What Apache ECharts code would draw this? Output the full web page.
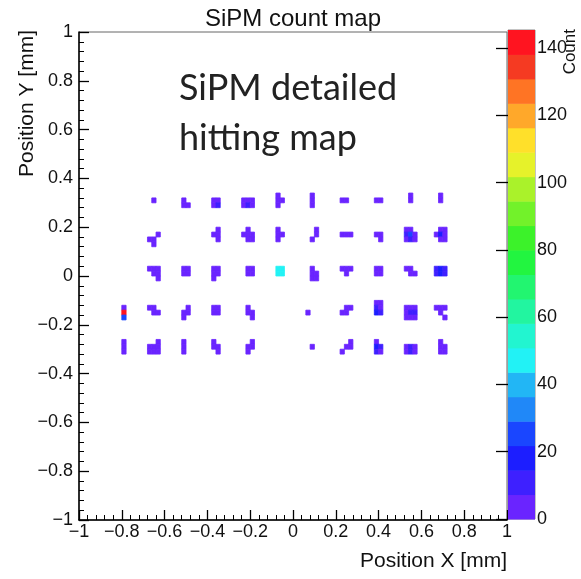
<!DOCTYPE html>
<html>
<head>
<meta charset="utf-8">
<script src="https://cdn.jsdelivr.net/npm/echarts@6/dist/echarts.min.js"></script>
<style>
  html, body { margin: 0; padding: 0; background: #fff; }
  #chart { width: 581px; height: 579px; }
</style>
</head>
<body>
<div id="chart"></div>
<script>
// Histogram bin width (mm) and colour scale of the count map
const BIN = 0.02;
const Z_MAX = 145.4;
const N_LEVELS = 20;

// Axis tick labels
const xTicks = [-1, -0.8, -0.6, -0.4, -0.2, 0, 0.2, 0.4, 0.6, 0.8, 1];
const yTicks = [-1, -0.8, -0.6, -0.4, -0.2, 0, 0.2, 0.4, 0.6, 0.8, 1];
const zTicks = [0, 20, 40, 60, 80, 100, 120, 140];

// Palette levels, lowest to highest
const levelColors = [
  '#6a24ff', '#3e20ff', '#1c1eff', '#1a46ff', '#2088f8',
  '#22b6f5', '#22f2f5', '#22f5d0', '#22f5a0', '#22f570',
  '#22f540', '#3cf22a', '#72f22a', '#aaf22a', '#e6f22a',
  '#ffe02a', '#ffa82a', '#ff7424', '#f53a22', '#ff1420'
];

// Filled bins [x (mm), y (mm), count], one list per row of pixels
const row030 = [
  [-0.65, 0.31, 3],
  [-0.51, 0.31, 4], [-0.51, 0.29, 5], [-0.49, 0.29, 4],
  [-0.37, 0.31, 5], [-0.35, 0.31, 6], [-0.37, 0.29, 6], [-0.35, 0.29, 11],
  [-0.23, 0.31, 5], [-0.21, 0.31, 6], [-0.19, 0.31, 4], [-0.23, 0.29, 6], [-0.21, 0.29, 10], [-0.19, 0.29, 5],
  [-0.07, 0.33, 4], [-0.07, 0.31, 6], [-0.05, 0.31, 4], [-0.07, 0.29, 5],
  [0.09, 0.33, 3], [0.09, 0.31, 5], [0.09, 0.29, 4],
  [0.23, 0.31, 4], [0.25, 0.31, 5],
  [0.39, 0.31, 5], [0.41, 0.31, 4],
  [0.55, 0.33, 3], [0.55, 0.31, 4],
  [0.69, 0.33, 3], [0.69, 0.31, 4]
];
const row015 = [
  [-0.63, 0.17, 3], [-0.67, 0.15, 4], [-0.65, 0.15, 2], [-0.65, 0.13, 4],
  [-0.35, 0.19, 4], [-0.37, 0.17, 4], [-0.35, 0.17, 6], [-0.35, 0.15, 5],
  [-0.21, 0.19, 4], [-0.23, 0.17, 4], [-0.21, 0.17, 7], [-0.19, 0.17, 6], [-0.21, 0.15, 6], [-0.19, 0.15, 5],
  [-0.07, 0.19, 4], [-0.07, 0.17, 6], [-0.05, 0.17, 4], [-0.07, 0.15, 5],
  [0.11, 0.19, 3], [0.11, 0.17, 4], [0.09, 0.15, 5],
  [0.23, 0.17, 4], [0.25, 0.17, 5], [0.27, 0.17, 4],
  [0.39, 0.17, 5], [0.41, 0.17, 4], [0.41, 0.15, 5],
  [0.53, 0.19, 5], [0.55, 0.19, 4], [0.53, 0.17, 8], [0.55, 0.17, 22], [0.57, 0.17, 6],
  [0.53, 0.15, 6], [0.55, 0.15, 9], [0.57, 0.15, 4],
  [0.69, 0.19, 5], [0.71, 0.19, 4], [0.67, 0.17, 4], [0.69, 0.17, 18], [0.71, 0.17, 7],
  [0.69, 0.15, 6], [0.71, 0.15, 5]
];
const row000 = [
  [-0.67, 0.03, 4], [-0.65, 0.03, 5], [-0.63, 0.03, 5], [-0.65, 0.01, 4], [-0.63, 0.01, 6], [-0.63, -0.01, 3],
  [-0.51, 0.03, 5], [-0.49, 0.03, 5], [-0.51, 0.01, 6], [-0.49, 0.01, 5],
  [-0.37, 0.03, 5], [-0.35, 0.03, 5], [-0.37, 0.01, 6], [-0.35, 0.01, 4], [-0.37, -0.01, 4],
  [-0.21, 0.03, 5], [-0.19, 0.03, 4], [-0.21, 0.01, 6], [-0.19, 0.01, 5],
  [-0.07, 0.03, 46], [-0.05, 0.03, 48], [-0.07, 0.01, 47], [-0.05, 0.01, 50],
  [0.09, 0.03, 4], [0.09, 0.01, 5], [0.11, 0.01, 4], [0.09, -0.01, 4], [0.11, -0.01, 5],
  [0.23, 0.03, 4], [0.25, 0.03, 6], [0.27, 0.03, 4], [0.25, 0.01, 5],
  [0.39, 0.03, 5], [0.41, 0.03, 5], [0.39, 0.01, 6], [0.41, 0.01, 5],
  [0.53, 0.03, 5], [0.55, 0.03, 4], [0.55, 0.01, 6], [0.57, 0.01, 5],
  [0.67, 0.03, 11], [0.69, 0.03, 16], [0.71, 0.03, 12], [0.67, 0.01, 12], [0.69, 0.01, 20], [0.71, 0.01, 14]
];
const rowM015 = [
  [-0.79, -0.13, 7], [-0.79, -0.15, 143], [-0.79, -0.17, 24],
  [-0.67, -0.13, 4], [-0.65, -0.13, 5], [-0.65, -0.15, 6], [-0.63, -0.15, 4],
  [-0.49, -0.13, 4], [-0.51, -0.15, 5], [-0.49, -0.15, 4], [-0.51, -0.17, 5],
  [-0.37, -0.13, 4], [-0.35, -0.13, 3], [-0.37, -0.15, 6], [-0.35, -0.15, 5],
  [-0.21, -0.13, 4], [-0.21, -0.15, 5], [-0.19, -0.15, 4], [-0.19, -0.17, 5],
  [0.07, -0.15, 3],
  [0.27, -0.13, 4], [0.25, -0.13, 2], [0.25, -0.15, 5], [0.23, -0.15, 3],
  [0.39, -0.11, 4], [0.41, -0.11, 5], [0.39, -0.13, 8], [0.41, -0.13, 6], [0.39, -0.15, 20], [0.41, -0.15, 9],
  [0.53, -0.13, 5], [0.55, -0.13, 6], [0.57, -0.13, 5], [0.53, -0.15, 7], [0.55, -0.15, 14], [0.57, -0.15, 8],
  [0.53, -0.17, 5], [0.55, -0.17, 7], [0.57, -0.17, 4],
  [0.67, -0.13, 4], [0.69, -0.13, 5], [0.71, -0.13, 4], [0.69, -0.15, 6], [0.71, -0.17, 5]
];
const rowM030 = [
  [-0.79, -0.27, 4], [-0.79, -0.29, 6], [-0.79, -0.31, 5],
  [-0.63, -0.27, 3], [-0.67, -0.29, 5], [-0.65, -0.29, 6], [-0.63, -0.29, 5], [-0.67, -0.31, 5], [-0.65, -0.31, 7], [-0.63, -0.31, 4],
  [-0.51, -0.27, 3], [-0.51, -0.29, 5], [-0.51, -0.31, 4],
  [-0.37, -0.27, 3], [-0.37, -0.29, 5], [-0.35, -0.29, 3], [-0.35, -0.31, 5],
  [-0.19, -0.27, 4], [-0.21, -0.29, 5], [-0.19, -0.29, 3], [-0.21, -0.31, 4],
  [0.09, -0.29, 3],
  [0.27, -0.27, 3], [0.25, -0.29, 5], [0.27, -0.29, 2], [0.23, -0.31, 4],
  [0.39, -0.27, 6], [0.39, -0.29, 18], [0.41, -0.29, 8], [0.39, -0.31, 12], [0.41, -0.31, 6],
  [0.53, -0.29, 6], [0.55, -0.29, 9], [0.57, -0.29, 5], [0.53, -0.31, 7], [0.55, -0.31, 12], [0.57, -0.31, 6],
  [0.69, -0.27, 4], [0.69, -0.29, 5], [0.71, -0.29, 4], [0.69, -0.31, 5], [0.71, -0.31, 6]
];

const cells = [].concat(row030, row015, row000, rowM015, rowM030);

// Colour levels as [low, high] ranges of the z scale
const levelStep = Z_MAX / N_LEVELS;
const levels = levelColors.map((c, i) => [i * levelStep, (i + 1) * levelStep, i]);

function levelColor(v) {
  const i = Math.min(N_LEVELS - 1, Math.max(0, Math.floor(v / levelStep)));
  return levelColors[i];
}

const tickFmt = v => {
  const r = Math.round(v * 10) / 10;
  return String(r).replace('-', '\u2212');
};

const labelFont = 'Liberation Sans';
const chart = echarts.init(document.getElementById('chart'), null, { renderer: 'canvas' });

chart.setOption({
  animation: false,
  backgroundColor: '#ffffff',
  grid: [
    { left: 79, top: 32, width: 428, height: 488, show: true, borderColor: '#666', borderWidth: 1, backgroundColor: 'transparent' },
    { left: 508, top: 30, width: 27, height: 489, show: true, borderColor: '#888', borderWidth: 1, backgroundColor: 'transparent' }
  ],
  xAxis: [
    {
      gridIndex: 0, type: 'value', min: -1, max: 1, interval: 0.2, position: 'bottom',
      axisLine: { show: true, onZero: false, lineStyle: { color: '#000', width: 1.5 } },
      axisTick: { show: true, inside: true, length: 10, lineStyle: { color: '#000', width: 1.3 } },
      minorTick: { show: true, splitNumber: 5, length: 5, lineStyle: { color: '#000', width: 1 } },
      axisLabel: { formatter: tickFmt, fontFamily: labelFont, fontSize: 18, color: '#111', margin: 3,
        customValues: xTicks },
      splitLine: { show: false }
    },
    { gridIndex: 1, type: 'value', min: 0, max: 1, show: false }
  ],
  yAxis: [
    {
      gridIndex: 0, type: 'value', min: -1, max: 1, interval: 0.2, position: 'left',
      axisLine: { show: true, onZero: false, lineStyle: { color: '#000', width: 1.5 } },
      axisTick: { show: true, inside: true, length: 10, lineStyle: { color: '#000', width: 1.3 } },
      minorTick: { show: true, splitNumber: 5, length: 5, lineStyle: { color: '#000', width: 1 } },
      axisLabel: { formatter: tickFmt, fontFamily: labelFont, fontSize: 18, color: '#111', margin: 6,
        customValues: yTicks },
      splitLine: { show: false }
    },
    {
      gridIndex: 1, type: 'value', min: 0, max: Z_MAX, position: 'right',
      axisLine: { show: false },
      axisTick: { show: true, inside: true, length: 12, customValues: zTicks, lineStyle: { color: '#000', width: 1.3 } },
      axisLabel: { fontFamily: labelFont, fontSize: 18, color: '#111', margin: 2, customValues: zTicks },
      splitLine: { show: false }
    }
  ],
  series: [
    {
      type: 'custom',
      name: 'Count',
      xAxisIndex: 0, yAxisIndex: 0,
      clip: true,
      data: cells,
      renderItem(params, api) {
        const x = api.value(0), y = api.value(1), z = api.value(2);
        const p0 = api.coord([x - BIN / 2, y + BIN / 2]);
        const p1 = api.coord([x + BIN / 2, y - BIN / 2]);
        const c = levelColor(z);
        return {
          type: 'rect',
          shape: { x: p0[0], y: p0[1], width: p1[0] - p0[0], height: p1[1] - p0[1] },
          style: { fill: c, stroke: c, lineWidth: 0.8 }
        };
      }
    },
    {
      type: 'custom',
      name: 'palette',
      xAxisIndex: 1, yAxisIndex: 1,
      data: levels,
      renderItem(params, api) {
        const lo = api.value(0), hi = api.value(1), i = api.value(2);
        const p0 = api.coord([0, hi]);
        const p1 = api.coord([1, lo]);
        return {
          type: 'rect',
          shape: { x: p0[0], y: p0[1], width: p1[0] - p0[0], height: p1[1] - p0[1] + 0.5 },
          style: { fill: levelColors[i] }
        };
      },
      z: 1
    }
  ],
  graphic: [
    { type: 'text', x: 293, y: 31, style: { text: 'SiPM count map', font: '24px "Liberation Sans"', fill: '#111', textAlign: 'center', textVerticalAlign: 'bottom' } },
    { type: 'text', x: 27, y: 30, rotation: Math.PI / 2, style: { text: 'Position Y [mm]', font: '21px "Liberation Sans"', fill: '#111', textAlign: 'right', textVerticalAlign: 'middle' } },
    { type: 'text', x: 507, y: 561, style: { text: 'Position X [mm]', font: '21px "Liberation Sans"', fill: '#111', textAlign: 'right', textVerticalAlign: 'middle' } },
    { type: 'text', x: 570, y: 29, rotation: Math.PI / 2, style: { text: 'Count', font: '17px "Liberation Sans"', fill: '#111', textAlign: 'right', textVerticalAlign: 'middle' } },
    { type: 'text', x: 179, y: 88, style: { text: 'SiPM detailed', font: '36px Lato', fill: '#222', textAlign: 'left', textVerticalAlign: 'middle' } },
    { type: 'text', x: 179, y: 138, style: { text: 'hitting map', font: '36px Lato', fill: '#222', textAlign: 'left', textVerticalAlign: 'middle' } }
  ]
});
</script>
</body>
</html>
